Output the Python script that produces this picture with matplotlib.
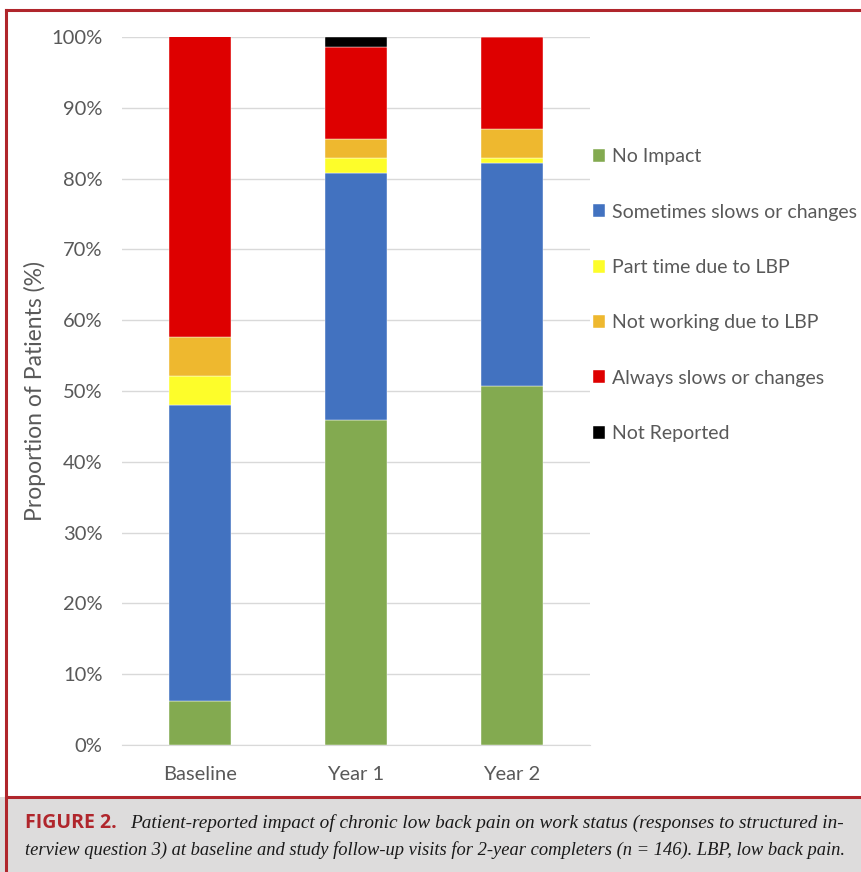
import matplotlib
matplotlib.use("Agg")
import matplotlib.pyplot as plt
from matplotlib.patches import Rectangle
from matplotlib.lines import Line2D
from matplotlib.ticker import FuncFormatter

# Work-status responses (percent of 2-year completers, n = 146)
visits = ["Baseline", "Year 1", "Year 2"]
categories = ["No Impact", "Sometimes slows or changes", "Part time due to LBP",
              "Not working due to LBP", "Always slows or changes", "Not Reported"]
no_impact = [6.2, 45.9, 50.7]
sometimes = [41.8, 34.9, 31.5]
part_time = [4.1, 2.1, 0.7]
not_working = [5.5, 2.7, 4.1]
always = [42.5, 13.0, 13.0]
not_reported = [0.0, 1.4, 0.0]
series = [no_impact, sometimes, part_time, not_working, always, not_reported]
colors = ["#83aa50", "#4272c0", "#fdfd2a", "#eeb82f", "#de0000", "#000000"]

W, H = 861, 872
fig = plt.figure(figsize=(W / 100, H / 100), dpi=100)
plt.rcParams["font.family"] = ["Lato", "DejaVu Sans"]

# frame and caption panel
red = "#b0262c"
fig.patches.append(Rectangle((0, 0), 1, 75 / H, transform=fig.transFigure,
                             facecolor="#dddcdc", edgecolor="none", zorder=0))
fig.add_artist(Line2D([6 / W, 6 / W], [0, 1 - 10 / H], transform=fig.transFigure,
                      color=red, lw=2.2))
fig.add_artist(Line2D([6 / W, 1], [1 - 10 / H, 1 - 10 / H], transform=fig.transFigure,
                      color=red, lw=2.2))
fig.add_artist(Line2D([6 / W, 1], [75 / H, 75 / H], transform=fig.transFigure,
                      color=red, lw=2.2))

ax = fig.add_axes([122 / W, 1 - 745 / H, (590 - 122) / W, (745 - 37) / H])
x = list(range(len(visits)))
bottom = [0.0] * len(visits)
for vals, col, name in zip(series, colors, categories):
    ax.bar(x, vals, width=0.4, bottom=bottom, color=col, label=name, zorder=3,
           edgecolor="white", linewidth=0.3)
    bottom = [b + v for b, v in zip(bottom, vals)]

ax.set_xlim(-0.5, 2.5)
ax.set_ylim(0, 100)
ax.set_yticks(range(0, 101, 10))
ax.yaxis.set_major_formatter(FuncFormatter(lambda v, p: f"{int(v)}%"))
ax.set_xticks(x)
ax.set_xticklabels(visits)
ax.grid(axis="y", color="#d9d9d9", lw=1, zorder=0)
for s in ["top", "right", "left"]:
    ax.spines[s].set_visible(False)
ax.spines["bottom"].set_color("#d9d9d9")
ax.tick_params(axis="both", length=0, labelsize=14.5, colors="#595959")
ax.tick_params(axis="y", pad=14)
ax.tick_params(axis="x", pad=15)
ax.set_ylabel("Proportion of Patients (%)", fontsize=16.5, color="#595959", labelpad=4)

handles, labels = ax.get_legend_handles_labels()
leg = fig.legend(handles, labels, loc="upper left", bbox_to_anchor=(575 / W, 1 - 131 / H),
                 frameon=False, fontsize=14, labelcolor="#595959", handlelength=0.65,
                 handleheight=0.65, handletextpad=0.35, labelspacing=1.97)

# caption
cap_y1 = 1 - 823 / H
cap_y2 = 1 - 850 / H
fig.text(25 / W, cap_y1, "FIGURE 2.", fontsize=14, fontweight="bold", color=red,
         family=["Open Sans", "DejaVu Sans"], va="center")
fig.text(130 / W, cap_y1,
         "Patient-reported impact of chronic low back pain on work status (responses to structured in-",
         fontsize=13.9, style="italic", family=["Liberation Serif"], va="center", color="#1a1a1a")
fig.text(25 / W, cap_y2,
         "terview question 3) at baseline and study follow-up visits for 2-year completers (n = 146). LBP, low back pain.",
         fontsize=13.3, style="italic", family=["Liberation Serif"], va="center", color="#1a1a1a")

fig.savefig("out.png", dpi=100)
